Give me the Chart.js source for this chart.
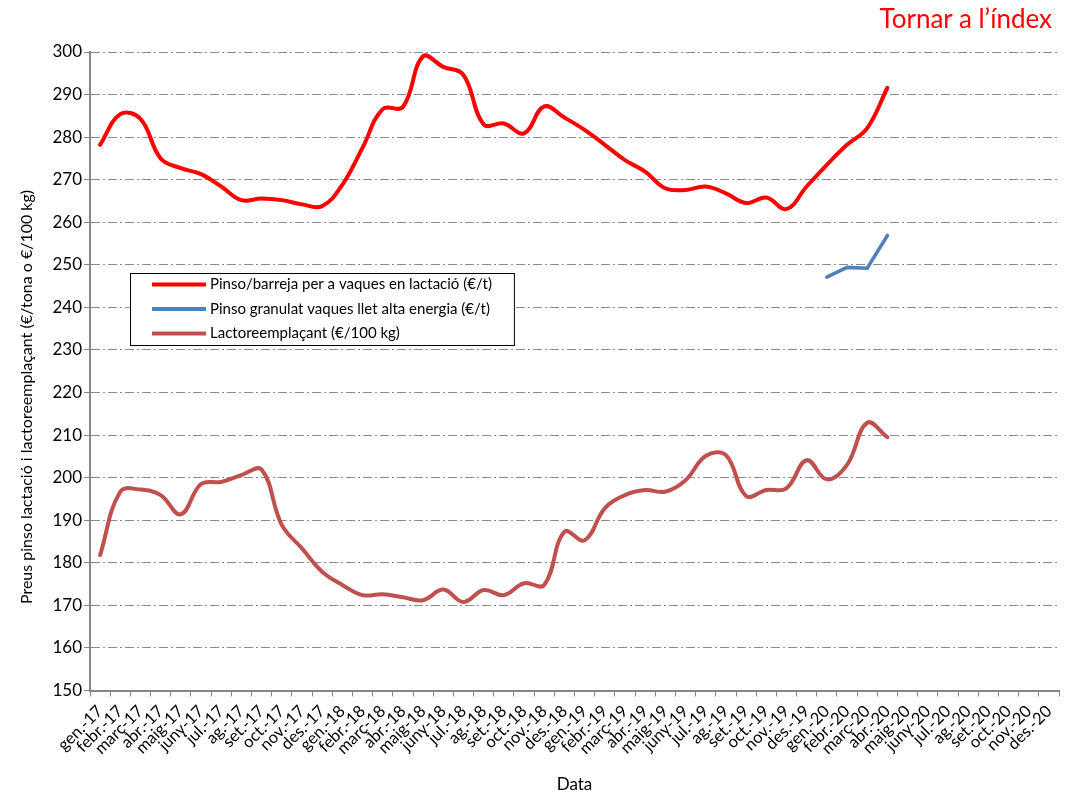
<!DOCTYPE html>
<html>
<head>
<meta charset="utf-8">
<script src="https://cdn.jsdelivr.net/npm/chart.js@4/dist/chart.umd.min.js"></script>
<style>
    body { margin: 0; background: #fff; }
    #wrap { position: relative; width: 1075px; height: 798px; }
    #tornar { position: absolute; right: 23px; top: 2px; color: #ff0000; font: 26px Lato, sans-serif; }
</style>
</head>
<body>
<div id="wrap">
    <canvas id="preusChart"></canvas>
    <div id="tornar">Tornar a l’índex</div>
</div>
<script>
// mesos i anys de l'eix X
const mesos = ['gen.', 'febr.', 'març', 'abr.', 'maig', 'juny', 'jul.', 'ag.', 'set.', 'oct.', 'nov.', 'des.'];
const anys = ['17', '18', '19', '20'];
const categories = anys.flatMap(a => mesos.map(m => m + '-' + a));

// Pinso/barreja per a vaques en lactació (€/t), gen.-17 a abr.-20
const pinsoLactacio = [
    278.2, 285.4, 284.3, 275.0, 272.7, 271.3, 268.4, 265.2, 265.6, 265.2, 264.2, 263.8,
    268.8, 277.5, 286.6, 287.1, 299.0, 296.5, 294.6, 283.0, 283.2, 280.9, 287.2, 284.6,
    281.7, 278.2, 274.6, 271.9, 268.0, 267.6, 268.4, 266.8, 264.5, 265.8, 263.1, 268.4,
    273.5, 278.2, 282.1, 291.6
];

// Pinso granulat vaques llet alta energia (€/t), gen.-20 a abr.-20
const pinsoGranulatInici = 'gen.-20';
const pinsoGranulat = [247.1, 249.4, 249.2, 256.9];

// Lactoreemplaçant (€/100 kg), gen.-17 a abr.-20
const lactoreemplacant = [
    181.8, 196.7, 197.2, 195.9, 191.4, 198.5, 199.0, 200.6, 201.9, 188.9, 183.4, 177.9,
    174.8, 172.4, 172.6, 171.9, 171.2, 173.7, 170.8, 173.6, 172.4, 175.2, 174.8, 187.3,
    185.3, 192.8, 195.9, 197.1, 196.7, 199.4, 205.1, 205.3, 195.7, 197.1, 197.5, 204.1,
    199.6, 203.0, 212.9, 209.5
];

const yMin = 150, yMax = 300, yPas = 10;

const FONT = 'Lato, "Open Sans", sans-serif';
const GRIS = '#868686';

// llegenda i títol de l'eix Y dibuixats a mà
const decoracio = {
    id: 'decoracio',
    afterDraw(chart) {
        const ctx = chart.ctx;
        ctx.save();

        // títol eix Y
        ctx.font = '16px ' + FONT;
        ctx.fillStyle = '#000';
        ctx.textAlign = 'center';
        ctx.textBaseline = 'middle';
        ctx.translate(27, 397);
        ctx.rotate(-Math.PI / 2);
        ctx.fillText('Preus pinso lactació i lactoreemplaçant (€/tona o €/100 kg)', 0, 0);
        ctx.setTransform(1, 0, 0, 1, 0, 0);

        // llegenda
        ctx.font = '15px ' + FONT;
        const amples = chart.data.datasets.map(ds => ctx.measureText(ds.label).width);
        const x = 130, y = 273, h = 72;
        const w = 80 + Math.max(...amples) + 22;
        ctx.fillStyle = '#fff';
        ctx.fillRect(x, y, w, h);
        ctx.strokeStyle = '#000';
        ctx.lineWidth = 1;
        ctx.strokeRect(x + 0.5, y + 0.5, w, h);
        ctx.textAlign = 'left';
        chart.data.datasets.forEach((ds, i) => {
            const ly = y + 11.5 + i * 24.5;
            ctx.strokeStyle = ds.borderColor;
            ctx.lineWidth = 4;
            ctx.beginPath();
            ctx.moveTo(x + 22, ly);
            ctx.lineTo(x + 76, ly);
            ctx.stroke();
            ctx.fillStyle = '#000';
            ctx.fillText(ds.label, x + 80, ly);
        });
        ctx.restore();
    }
};

const iniciGranulat = categories.indexOf(pinsoGranulatInici);

new Chart(document.getElementById('preusChart'), {
    type: 'line',
    data: {
        labels: categories,
        datasets: [{
            label: 'Pinso/barreja per a vaques en lactació (€/t)',
            data: pinsoLactacio,
            borderColor: '#ff0000',
            borderWidth: 4,
            tension: 0.4,
            pointRadius: 0,
            borderCapStyle: 'round'
        }, {
            label: 'Pinso granulat vaques llet alta energia (€/t)',
            data: Array(iniciGranulat).fill(null).concat(pinsoGranulat),
            borderColor: '#4f81bd',
            borderWidth: 3.5,
            tension: 0,
            pointRadius: 0,
            borderCapStyle: 'round'
        }, {
            label: 'Lactoreemplaçant (€/100 kg)',
            data: lactoreemplacant,
            borderColor: '#c0504d',
            borderWidth: 4,
            tension: 0.4,
            pointRadius: 0,
            borderCapStyle: 'round'
        }]
    },
    options: {
        responsive: true,
        maintainAspectRatio: false,
        animation: false,
        layout: { padding: { top: 52, right: 16, bottom: 0, left: 0 } },
        plugins: {
            legend: { display: false },
            tooltip: { enabled: false }
        },
        scales: {
            x: {
                offset: true,
                grid: { drawOnChartArea: false, offset: true, tickLength: 6, color: GRIS },
                border: { color: GRIS, width: 2 },
                ticks: {
                    autoSkip: false, maxRotation: 45, minRotation: 45,
                    color: '#000', font: { family: FONT, size: 16.5 }, padding: 5
                },
                title: {
                    display: true, text: 'Data', color: '#000',
                    font: { family: FONT, size: 17 }, padding: { top: 0, bottom: 3 }
                },
                afterFit(scale) { scale.height = 107.5; }
            },
            y: {
                min: yMin,
                max: yMax,
                ticks: { stepSize: yPas, color: '#000', font: { family: FONT, size: 17 }, padding: 2 },
                grid: { color: '#8c8c8c', tickLength: 6, tickColor: GRIS, tickBorderDash: [] },
                border: { color: GRIS, width: 2, dash: [9, 3, 2, 3] },
                afterFit(scale) { scale.width = 90; }
            }
        }
    },
    plugins: [decoracio]
});
</script>
</body>
</html>
